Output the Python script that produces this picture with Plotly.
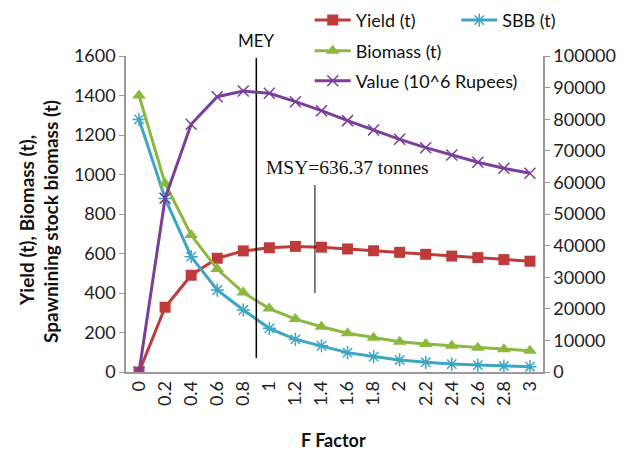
import plotly.graph_objects as go

f_factor = [0, 0.2, 0.4, 0.6, 0.8, 1.0, 1.2, 1.4, 1.6, 1.8, 2.0, 2.2, 2.4, 2.6, 2.8, 3.0]
x_labels = ["0", "0.2", "0.4", "0.6", "0.8", "1", "1.2", "1.4", "1.6", "1.8", "2", "2.2", "2.4", "2.6", "2.8", "3"]
yield_t = [0, 328, 490, 576, 613, 629, 636, 632, 623, 614, 606, 596, 587, 579, 569, 561]
biomass_t = [1400, 955, 694, 521, 402, 321, 268, 229, 196, 174, 153, 142, 133, 123, 115, 108]
sbb_t = [1279, 879, 584, 415, 314, 221, 165, 133, 98, 78, 61, 49, 40, 35, 30, 27]
value_rupees = [0, 54970, 78400, 87130, 88920, 88190, 85540, 82700, 79540, 76580, 73630, 70990, 68670, 66360, 64460, 62870]
left_ticks = [0, 200, 400, 600, 800, 1000, 1200, 1400, 1600]
right_ticks = [0, 10000, 20000, 30000, 40000, 50000, 60000, 70000, 80000, 90000, 100000]

mey_f = 0.9
msy_f = 1.35
msy_line = [400, 947]
mey_line = [71, 1590]

RED = "#BF3B3B"
GREEN = "#8DB83E"
CYAN = "#3DA6C4"
PURPLE = "#7B3F9A"
FONT = "Lato"

fig = go.Figure()
fig.add_trace(go.Scatter(x=f_factor, y=yield_t, name="Yield (t)", mode="lines+markers",
                         line=dict(color=RED, width=3),
                         marker=dict(symbol="square", size=11, color=RED), legend="legend"))
fig.add_trace(go.Scatter(x=f_factor, y=sbb_t, name="SBB (t)", mode="lines+markers",
                         line=dict(color=CYAN, width=3),
                         marker=dict(symbol="asterisk-open", size=11, color=CYAN, line=dict(color=CYAN, width=1.5)),
                         legend="legend2"))
fig.add_trace(go.Scatter(x=f_factor, y=biomass_t, name="Biomass (t)", mode="lines+markers",
                         line=dict(color=GREEN, width=3),
                         marker=dict(symbol="triangle-up", size=12, color=GREEN), legend="legend3"))
fig.add_trace(go.Scatter(x=f_factor, y=value_rupees, name="Value (10^6 Rupees)", mode="lines+markers",
                         line=dict(color=PURPLE, width=3),
                         marker=dict(symbol="x-thin-open", size=11, color=PURPLE, line=dict(color=PURPLE, width=1.5)),
                         yaxis="y2", legend="legend4"))

fig.add_trace(go.Scatter(x=[mey_f, mey_f], y=mey_line, mode="lines", line=dict(color="black", width=1.5),
                         showlegend=False, hoverinfo="skip"))
fig.add_trace(go.Scatter(x=[msy_f, msy_f], y=msy_line, mode="lines", line=dict(color="black", width=1),
                         showlegend=False, hoverinfo="skip"))

fig.add_annotation(x=mey_f, y=1.0506, text="MEY", showarrow=False, xref="x", yref="paper",
                   yanchor="middle", font=dict(family=FONT, size=17, color="#111111"))
fig.add_annotation(x=1.6, y=1038, text="MSY=636.37 tonnes", showarrow=False, xref="x", yref="y",
                   font=dict(family="Liberation Serif", size=19.5, color="#111111"))

# axis titles
fig.add_annotation(x=-0.2374, y=0.478, xref="paper", yref="paper", text="<b>Yield (t), Biomass (t),</b>",
                   showarrow=False, textangle=-90, xanchor="center", yanchor="middle",
                   font=dict(family=FONT, size=19, color="#111111"))
fig.add_annotation(x=-0.1799, y=0.478, xref="paper", yref="paper", text="<b>Spawnining stock biomass (t)</b>",
                   showarrow=False, textangle=-90, xanchor="center", yanchor="middle",
                   font=dict(family=FONT, size=19, color="#111111"))
fig.add_annotation(x=0.4988, y=-0.215, xref="paper", yref="paper", text="<b>F Factor</b>",
                   showarrow=False, xanchor="center", yanchor="middle",
                   font=dict(family=FONT, size=18, color="#111111"))

leg_common = dict(orientation="v", xref="container", yref="container", xanchor="left", yanchor="middle",
                  bgcolor="rgba(0,0,0,0)", font=dict(family=FONT, size=18, color="#111111"),
                  itemwidth=36)

fig.update_layout(
    width=626, height=443,
    margin=dict(l=118, r=91, t=48, b=79, autoexpand=False),
    paper_bgcolor="white", plot_bgcolor="white",
    font=dict(family=FONT, size=18, color="#222222"),
    legend=dict(x=0.482, y=0.972, **leg_common),
    legend2=dict(x=0.716, y=0.972, **leg_common),
    legend3=dict(x=0.482, y=0.903, **leg_common),
    legend4=dict(x=0.482, y=0.835, **leg_common),
    xaxis=dict(range=[-0.1, 3.1], tickmode="array", tickvals=f_factor, ticktext=x_labels,
               tickangle=-90, showline=True, linecolor="#9a9a9a", linewidth=1.5,
               showgrid=False, zeroline=False, ticks="", tickfont=dict(family=FONT, size=18)),
    yaxis=dict(range=[0, 1600], tickmode="array", tickvals=left_ticks,
               showline=True, linecolor="#9a9a9a", linewidth=1.5, ticks="outside", ticklen=5,
               tickcolor="#9a9a9a", showgrid=False, zeroline=False, tickfont=dict(family=FONT, size=18)),
    yaxis2=dict(range=[0, 100000], overlaying="y", side="right", tickmode="array",
                tickvals=right_ticks, ticktext=[str(v) for v in right_ticks],
                showline=True, linecolor="#9a9a9a",
                linewidth=1.5, ticks="outside", ticklen=5, tickcolor="#9a9a9a", showgrid=False,
                zeroline=False, tickfont=dict(family=FONT, size=18)),
)

fig.write_html("out.html")
